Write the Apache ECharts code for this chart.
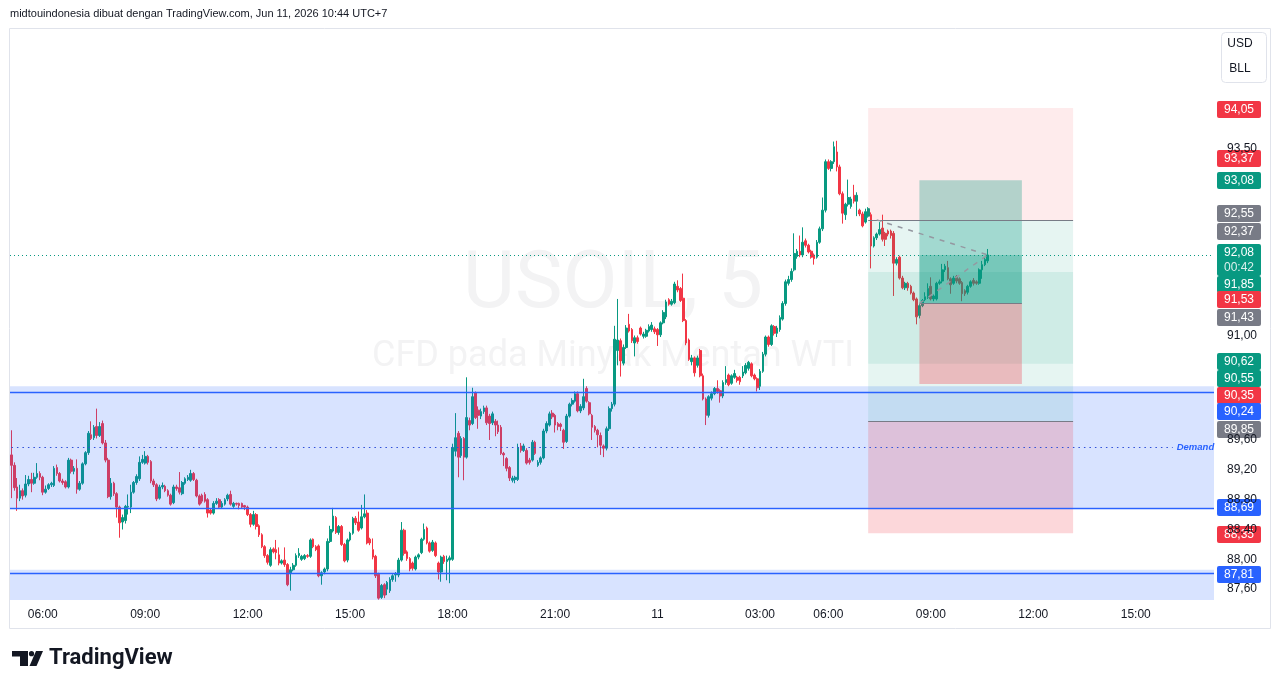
<!DOCTYPE html>
<html>
<head>
<meta charset="utf-8">
<title>USOIL, 5</title>
<script src="https://cdn.jsdelivr.net/npm/echarts@6/dist/echarts.min.js"></script>
<style>
  html, body { margin: 0; padding: 0; background: #fff; }
  #chart { width: 1281px; height: 688px; }
</style>
</head>
<body>
<div id="chart"></div>
<script>
// USOIL 5 menit, 10-11 Jun 2026 (UTC+7)
const firstBar = { day: 10, min: 5 * 60 + 5 };
const lastSlot = { day: 11, min: 17 * 60 + 15 };
const breakStart = 4 * 60, breakEnd = 5 * 60; // jeda harian tgl 11

// [open, close, low, high]
const candles = [
  [89.40,89.26,88.82,89.73],[89.26,88.96,88.92,89.30],[88.97,88.82,88.65,89.09],[88.82,88.92,88.78,89.00],
  [88.92,88.85,88.80,88.95],[88.86,89.01,88.83,89.13],[89.01,89.07,88.98,89.12],[89.07,89.02,88.90,89.16],
  [89.02,89.10,89.00,89.16],[89.10,89.15,89.08,89.29],[89.15,89.10,89.06,89.18],[89.10,88.90,88.86,89.12],
  [88.90,88.94,88.88,88.99],[88.95,89.00,88.93,89.02],[89.00,89.02,88.97,89.04],[88.99,89.22,88.97,89.25],
  [89.23,89.15,89.12,89.27],[89.15,89.05,89.03,89.17],[89.05,89.03,89.00,89.08],[89.04,88.97,88.95,89.06],
  [88.97,89.33,88.95,89.36],[89.33,89.18,89.15,89.35],[89.18,89.22,89.14,89.25],[89.22,88.94,88.88,89.34],
  [88.94,89.02,88.92,89.05],[89.02,89.28,89.00,89.30],[89.28,89.43,89.26,89.45],[89.43,89.69,89.40,89.72],
  [89.67,89.62,89.60,89.85],[89.63,89.77,89.60,89.80],[89.78,89.66,89.62,90.02],[89.66,89.78,89.64,89.84],
  [89.82,89.56,89.54,89.86],[89.56,89.33,89.30,89.60],[89.33,88.84,88.82,89.36],[88.84,89.02,88.80,89.09],
  [89.02,88.88,88.85,89.04],[88.88,88.70,88.56,88.90],[88.70,88.49,88.29,88.72],[88.50,88.56,88.40,88.60],
  [88.52,88.71,88.48,88.73],[88.70,88.71,88.60,88.87],[88.70,88.90,88.62,89.00],[88.90,89.03,88.88,89.05],
  [89.03,89.11,89.00,89.14],[89.08,89.30,89.05,89.38],[89.30,89.34,89.28,89.40],[89.29,89.38,89.27,89.45],
  [89.38,89.30,89.27,89.40],[89.31,89.05,89.02,89.33],[89.05,89.00,88.97,89.08],[89.00,88.81,88.78,89.02],
  [88.82,88.97,88.80,89.00],[88.97,88.99,88.94,89.03],[88.98,88.92,88.90,89.00],[88.92,88.86,88.84,88.94],
  [88.86,88.74,88.72,88.88],[88.76,88.97,88.74,89.00],[88.97,88.95,88.92,89.00],[88.96,88.90,88.87,89.17],
  [88.88,89.03,88.86,89.05],[89.02,89.08,89.00,89.10],[89.07,89.10,89.05,89.13],[89.06,89.15,89.04,89.20],
  [89.15,89.07,89.05,89.17],[89.06,88.85,88.83,89.08],[88.85,88.74,88.72,88.87],[88.86,88.78,88.75,88.88],
  [88.87,88.78,88.76,88.90],[88.80,88.62,88.56,88.82],[88.66,88.62,88.60,88.68],[88.62,88.75,88.60,88.78],
  [88.75,88.78,88.73,88.82],[88.80,88.70,88.68,88.82],[88.70,88.75,88.68,88.78],[88.74,88.80,88.72,88.82],
  [88.81,88.86,88.78,88.88],[88.87,88.74,88.72,88.92],[88.71,88.75,88.69,88.77],[88.75,88.74,88.72,88.76],
  [88.75,88.72,88.67,88.76],[88.75,88.70,88.68,88.76],[88.72,88.70,88.66,88.73],[88.70,88.60,88.58,88.72],
  [88.60,88.47,88.43,88.62],[88.47,88.60,88.45,88.65],[88.60,88.44,88.40,88.62],
  [88.45,88.33,88.30,88.47],[88.33,88.17,88.15,88.35],[88.17,88.05,88.02,88.19],[88.05,87.96,87.93,88.07],
  [87.92,88.13,87.90,88.16],[88.14,88.10,88.08,88.16],[88.13,88.09,88.00,88.26],[88.06,87.95,87.92,88.16],
  [87.95,87.98,87.93,88.00],[87.99,87.93,87.90,88.16],[87.93,87.66,87.64,87.95],[87.82,87.86,87.58,87.90],
  [87.86,87.92,87.84,87.95],[87.92,88.05,87.90,88.08],[88.05,88.08,88.02,88.15],[88.00,88.04,87.98,88.06],
  [88.01,88.05,87.99,88.07],[88.05,88.04,88.02,88.07],[88.04,88.26,88.02,88.28],[88.27,88.17,88.15,88.28],
  [88.17,88.13,88.11,88.19],[88.18,87.78,87.76,88.20],[87.78,87.82,87.66,87.84],[87.83,87.87,87.80,87.89],
  [87.87,88.24,87.84,88.28],[88.24,88.40,88.22,88.45],[88.38,88.58,88.36,88.69],[88.56,88.36,88.34,88.58],
  [88.36,88.44,88.33,88.46],[88.44,88.20,88.18,88.46],[88.20,87.98,87.96,88.22],[87.99,88.26,87.96,88.28],
  [88.26,88.35,88.24,88.37],[88.35,88.55,88.33,88.57],[88.55,88.49,88.46,88.58],[88.50,88.39,88.37,88.64],
  [88.42,88.57,88.40,88.73],[88.57,88.61,88.55,88.87],[88.62,88.22,88.20,88.66],[88.27,88.22,88.19,88.29],
  [88.13,88.03,88.00,88.28],[88.04,87.78,87.75,88.06],[87.80,87.48,87.46,87.82],[87.49,87.65,87.47,87.67],
  [87.66,87.52,87.48,87.68],[87.60,87.69,87.52,87.71],[87.58,87.73,87.55,87.76],[87.73,87.78,87.70,87.80],
  [87.79,87.80,87.70,87.83],[87.79,87.99,87.76,88.02],[87.99,88.39,87.97,88.50],[88.39,88.08,88.05,88.41],
  [88.10,88.01,87.98,88.12],[88.01,87.87,87.84,88.03],[87.95,87.88,87.85,87.97],[87.87,88.03,87.85,88.05],
  [88.03,88.06,88.00,88.08],[88.09,88.27,88.07,88.29],[88.27,88.40,88.25,88.48],[88.42,88.22,88.20,88.44],
  [88.22,88.11,88.09,88.24],[88.12,88.23,88.10,88.26],[88.22,88.05,88.03,88.24],[87.95,87.83,87.73,87.97],
  [87.83,88.03,87.70,88.05],[88.04,87.97,87.94,88.06],[87.97,88.00,87.72,88.05],[87.99,88.02,87.68,88.05],
  [88.00,89.50,87.98,89.55],[89.45,89.63,89.38,89.96],[89.69,89.37,89.10,89.72],[89.39,89.62,89.36,89.65],
  [89.62,89.37,89.06,89.64],[89.37,89.90,89.35,90.44],[89.86,89.80,89.73,89.90],[89.82,90.18,89.80,90.30],
  [90.23,89.90,89.88,90.25],[90.00,89.93,89.75,90.05],[89.92,89.98,89.88,90.02],[89.98,90.03,89.95,90.06],
  [90.03,89.83,89.80,90.06],[89.92,89.82,89.60,89.95],[89.83,89.95,89.80,89.98],[89.85,89.80,89.65,89.88],
  [89.80,89.71,89.68,89.86],[89.77,89.42,89.40,89.80],[89.42,89.40,89.25,89.44],[89.35,89.22,89.18,89.37],
  [89.23,89.09,89.05,89.25],[89.06,89.09,89.03,89.12],[89.07,89.10,89.02,89.12],[89.07,89.50,89.05,89.55],
  [89.52,89.46,89.43,89.56],[89.46,89.52,89.44,89.55],[89.46,89.29,89.27,89.49],[89.33,89.30,89.27,89.36],
  [89.33,89.57,89.31,89.60],[89.57,89.42,89.40,89.59],[89.26,89.30,89.24,89.33],[89.30,89.36,89.27,89.38],
  [89.36,89.72,89.34,89.75],[89.72,89.82,89.69,89.85],[89.80,89.95,89.78,89.98],[89.96,89.91,89.88,90.00],
  [89.93,89.80,89.70,89.95],[89.82,89.78,89.73,89.84],[89.81,89.78,89.72,89.83],[89.73,89.57,89.48,89.75],
  [89.58,89.92,89.56,89.95],[89.92,90.08,89.90,90.10],[90.08,90.13,90.05,90.16],[90.12,90.22,90.10,90.25],
  [90.22,89.99,89.97,90.25],[89.99,90.05,89.96,90.08],[90.03,90.18,90.00,90.42],[90.29,90.12,90.10,90.32],
  [90.10,89.95,89.93,90.12],[89.93,89.77,89.60,89.95],[89.78,89.73,89.70,89.80],[89.73,89.67,89.50,89.75],
  [89.66,89.53,89.40,89.70],[89.52,89.49,89.37,89.54],[89.49,89.75,89.46,89.78],[89.75,90.02,89.72,90.05],
  [90.02,90.08,89.98,90.11],[90.08,90.95,90.05,91.13],[90.80,90.94,90.60,91.49],[90.93,90.66,90.45,90.96],
  [90.63,90.84,90.60,90.88],[90.84,91.10,90.82,91.14],[91.15,91.06,91.04,91.29],[91.08,90.93,90.90,91.10],
  [90.90,90.97,90.72,91.00],[90.97,90.92,90.89,91.00],[91.10,91.02,91.00,91.12],[90.99,91.02,90.96,91.05],
  [90.99,91.07,90.97,91.09],[91.06,91.12,91.04,91.15],[91.08,91.14,91.05,91.18],[91.09,91.05,91.02,91.12],
  [91.08,91.01,90.86,91.10],[91.01,91.17,90.98,91.19],[91.17,91.31,91.15,91.34],[91.25,91.45,91.22,91.48],
  [91.48,91.42,91.40,91.50],[91.42,91.46,91.40,91.49],[91.44,91.69,91.42,91.72],[91.66,91.61,91.58,91.74],
  [91.63,91.47,91.45,91.65],[91.50,91.20,91.18,91.83],[91.20,90.90,90.87,91.22],[90.94,90.68,90.66,90.96],
  [90.65,90.70,90.60,90.74],[90.70,90.50,90.45,90.72],[90.60,90.70,90.57,90.73],[90.80,90.46,90.44,90.82],
  [90.46,90.15,90.13,90.49],[90.15,89.93,89.80,90.17],[89.93,90.18,89.90,90.20],[90.16,90.22,90.13,90.25],
  [90.22,90.29,90.20,90.31],[90.29,90.25,90.22,90.40],[90.26,90.19,90.10,90.28],[90.19,90.37,90.16,90.40],
  [90.37,90.41,90.34,90.59],[90.47,90.34,90.32,90.49],[90.36,90.46,90.34,90.48],[90.44,90.49,90.42,90.54],
  [90.44,90.40,90.37,90.46],[90.44,90.38,90.34,90.46],[90.46,90.51,90.43,90.59],[90.50,90.60,90.48,90.63],
  [90.56,90.64,90.53,90.66],[90.62,90.46,90.44,90.64],[90.47,90.42,90.40,90.49],[90.42,90.30,90.25,90.44],
  [90.32,90.52,90.27,90.55],[90.52,90.75,90.50,90.78],[90.75,90.98,90.72,91.00],[90.98,90.88,90.85,91.00],
  [90.88,91.13,90.86,91.15],
  [91.12,91.03,91.00,91.14],[91.03,91.10,90.98,91.13],[91.08,91.24,91.05,91.27],[91.22,91.43,91.20,91.46],
  [91.43,91.72,91.40,91.75],[91.70,91.75,91.67,91.80],[91.75,91.86,91.72,91.90],
  [91.88,92.10,91.86,92.37],[92.06,92.13,92.03,92.16],[92.13,92.08,92.05,92.34],[92.08,92.25,92.05,92.45],
  [92.27,92.21,92.18,92.30],[92.21,92.12,92.10,92.23],[92.13,92.05,92.03,92.15],[92.08,92.03,91.95,92.10],
  [92.05,92.25,92.03,92.28],[92.25,92.43,92.23,92.46],[92.43,92.68,92.40,92.85],[92.68,93.33,92.65,93.36],
  [93.33,93.24,93.22,93.36],[93.24,93.33,93.20,93.35],[93.33,93.53,93.30,93.60],[93.46,93.26,93.20,93.61],
  [93.26,92.90,92.88,93.29],[92.90,92.64,92.50,92.93],[92.62,92.76,92.55,92.78],[92.76,92.85,92.73,93.09],
  [92.73,92.83,92.70,92.86],[92.88,92.80,92.77,93.02],[92.80,92.88,92.60,92.92],[92.68,92.63,92.60,92.70],
  [92.63,92.47,92.45,92.66],[92.52,92.66,92.50,92.70],[92.60,92.70,92.58,92.72],[92.62,92.20,91.90,92.65],
  [92.20,92.31,92.18,92.33],[92.31,92.36,92.28,92.38],[92.36,92.42,92.34,92.52],[92.44,92.29,92.26,92.62],
  [92.37,92.29,92.20,92.39],[92.40,92.36,92.33,92.42],[92.40,92.34,92.30,92.42],[92.37,91.97,91.53,92.40],
  [91.97,92.02,91.94,92.05],[92.05,91.77,91.75,92.07],[91.77,91.64,91.62,91.80],[91.64,91.70,91.61,91.72],
  [91.70,91.64,91.60,91.72],[91.66,91.57,91.55,91.68],[91.57,91.48,91.46,91.59],[91.49,91.25,91.15,91.51],
  [91.27,91.40,91.23,91.42],[91.40,91.47,91.38,91.49],[91.48,91.52,91.46,91.58],[91.51,91.63,91.49,91.70],
  [91.66,91.49,91.47,91.78],[91.49,91.53,91.46,91.55],[91.49,91.70,91.47,91.72],[91.70,91.72,91.68,91.75],
  [91.73,91.88,91.70,91.96],[91.88,91.93,91.85,91.96],[91.91,91.76,91.74,92.00],[91.76,91.68,91.56,91.78],
  [91.70,91.77,91.68,91.80],[91.79,91.73,91.70,91.81],[91.76,91.70,91.68,91.78],[91.71,91.56,91.46,91.73],
  [91.60,91.56,91.53,91.62],[91.58,91.66,91.55,91.68],[91.66,91.72,91.64,91.74],[91.74,91.70,91.67,91.77],
  [91.72,91.70,91.68,91.74],[91.70,91.88,91.68,91.90],[91.88,91.95,91.76,92.00],[91.95,92.02,91.93,92.05],
  [92.00,92.08,91.97,92.16]
];

const priceTicks = [87.6, 88.0, 88.4, 88.8, 89.2, 89.6, 91.0, 93.5];
const yMin = 87.455, yMax = 95.122;
const lastPrice = 92.08;
const countdown = '00:42';

// label harga di skala kanan
const tagPrices = [94.05, 93.37, 93.08, 92.55, 92.37, 92.08, 91.85, 91.53, 91.43, 90.62, 90.55, 90.35, 90.24, 89.85, 88.69, 88.35, 87.81];
const tagKinds  = ['stop', 'stop', 'target', 'entry', 'entry', 'last', 'target', 'stop', 'entry', 'target', 'target', 'stop', 'line', 'entry', 'line', 'stop', 'line'];
const tagNudge  = [2, 0, 0, -6, -2, 5, 12, 4, 14, -2, 9, 11, 19, 8, 0, 1, 1]; // geser supaya tidak tumpuk

// gambar: zona demand, garis horizontal, posisi
const demandTop = 90.32, demandBottom = 88.69;
const lowerZoneTop = 87.86;
const hLines = [90.24, 88.69, 87.81];
const shortPos = { from: '11 07:10', to: '11 13:10', stop: 94.05, entry: 92.55, target: 89.85, lineFrom: '11 07:25' };
const extraPos = { entry: 89.85, stop: 88.35, bandTop: 91.85, bandBottom: 90.62 };
const longPos  = { from: '11 08:40', to: '11 11:40', target: 93.08, entry: 91.43, stop: 90.35 };
const lastBar = '11 10:40';
const demandLabelEnd = '11 16:05';

const pad = n => (n < 10 ? '0' : '') + n;
const categories = [];
for (let d = firstBar.day, m = firstBar.min; d < lastSlot.day || m <= lastSlot.min;) {
  if (!(d === 11 && m >= breakStart && m < breakEnd)) {
    categories.push(d + ' ' + pad(Math.floor(m / 60)) + ':' + pad(m % 60));
  }
  m += 5;
  if (m >= 1440) { m -= 1440; d++; }
}

const fmt = v => v.toFixed(2).replace('.', ',');
const FONT = '"Liberation Sans", Arial, sans-serif';
const GREEN = '#089981', RED = '#f23645', GREY = '#787b86', BLUE = '#2962ff';

const chart = echarts.init(document.getElementById('chart'));

const box = (x1, x2, top, bottom, color) => [
  { xAxis: x1, yAxis: top, itemStyle: { color: color } },
  { xAxis: x2, yAxis: bottom }
];
const seg = (x1, y1, x2, y2, style) => [
  { xAxis: x1, yAxis: y1, lineStyle: style },
  { xAxis: x2, yAxis: y2 }
];

chart.setOption({
  animation: false,
  textStyle: { fontFamily: FONT },
  grid: { left: 10, right: 67, top: 28, bottom: 88 },
  xAxis: {
    type: 'category',
    data: categories,
    boundaryGap: true,
    axisLine: { show: false },
    axisTick: { show: false },
    splitLine: { show: false },
    axisLabel: {
      color: '#131722',
      fontSize: 12,
      margin: 9,
      interval: (i, v) => {
        const hm = v.split(' ')[1];
        return hm.endsWith(':00') && (+hm.slice(0, 2)) % 3 === 0;
      },
      formatter: v => {
        const [d, hm] = v.split(' ');
        return hm === '00:00' ? d : hm;
      }
    }
  },
  yAxis: {
    type: 'value',
    position: 'right',
    min: yMin,
    max: yMax,
    axisLine: { show: false },
    axisTick: { show: false },
    splitLine: { show: false },
    axisLabel: {
      color: '#131722',
      fontSize: 12,
      margin: 13,
      customValues: priceTicks,
      formatter: v => fmt(v)
    }
  },
  series: [{
    type: 'candlestick',
    data: candles,
    barWidth: 2.2,
    silent: true,
    itemStyle: {
      color: GREEN, color0: RED,
      borderColor: GREEN, borderColor0: RED,
      borderWidth: 1
    },
    markArea: {
      z: 3,
      silent: true,
      data: [
        [{ yAxis: demandTop, itemStyle: { color: 'rgba(41,98,255,0.18)' } }, { yAxis: demandBottom }],
        [{ yAxis: lowerZoneTop, itemStyle: { color: 'rgba(41,98,255,0.18)' } }, { yAxis: yMin }],
        box(shortPos.from, shortPos.to, shortPos.stop, shortPos.entry, 'rgba(242,54,69,0.1)'),
        box(shortPos.from, shortPos.to, shortPos.entry, shortPos.target, 'rgba(8,153,129,0.1)'),
        box(shortPos.from, shortPos.to, extraPos.bandTop, extraPos.bandBottom, 'rgba(8,153,129,0.1)'),
        box(shortPos.from, shortPos.to, extraPos.entry, extraPos.stop, 'rgba(242,54,69,0.2)'),
        box(longPos.from, longPos.to, longPos.target, longPos.entry, 'rgba(8,153,129,0.3)'),
        box(longPos.from, longPos.to, longPos.entry, longPos.stop, 'rgba(242,54,69,0.3)'),
        box(longPos.from, longPos.to, lastPrice, longPos.entry, 'rgba(8,153,129,0.28)')
      ]
    },
    markLine: {
      silent: true,
      symbol: ['none', 'none'],
      label: { show: false },
      data: [
        ...hLines.map(v => ({ yAxis: v, lineStyle: { color: BLUE, width: 1.3, type: 'solid' } })),
        { yAxis: lastPrice, lineStyle: { color: GREEN, width: 1, type: [1, 3] } },
        [
          {
            xAxis: categories[0], yAxis: (demandTop + demandBottom) / 2,
            lineStyle: { color: '#2f4fd8', width: 1.2, type: [1.5, 4] },
            label: {
              show: true, position: 'end', distance: 4, formatter: 'Demand',
              color: BLUE, fontSize: 9.5, fontStyle: 'italic', fontWeight: 'bold'
            }
          },
          { xAxis: demandLabelEnd, yAxis: (demandTop + demandBottom) / 2 }
        ],
        seg(shortPos.from, shortPos.entry, shortPos.to, shortPos.entry, { color: GREY, width: 1, type: 'solid' }),
        seg(shortPos.from, extraPos.entry, shortPos.to, extraPos.entry, { color: GREY, width: 1, type: 'solid' }),
        seg(longPos.from, longPos.entry, longPos.to, longPos.entry, { color: GREY, width: 1, type: 'solid' }),
        seg(shortPos.lineFrom, shortPos.entry, lastBar, lastPrice, { color: '#9598a1', width: 1.5, type: [5, 6] }),
        seg(longPos.from, longPos.entry, lastBar, lastPrice, { color: '#9598a1', width: 1.5, type: [5, 6] })
      ]
    }
  }]
});

// elemen statis + label harga
const tagColor = { stop: RED, target: GREEN, entry: GREY, line: BLUE, last: GREEN };
const tags = tagPrices.map((p, k) => {
  const last = tagKinds[k] === 'last';
  const h = last ? 32 : 17;
  const y = chart.convertToPixel({ yAxisIndex: 0 }, p) + tagNudge[k];
  const children = [
    { type: 'rect', shape: { x: 0, y: 0, width: 44, height: h, r: 2 }, style: { fill: tagColor[tagKinds[k]] } },
    { type: 'text', x: 22, y: last ? 8.5 : h / 2, style: { text: fmt(p), fill: '#fff', font: '12px ' + FONT, align: 'center', verticalAlign: 'middle' } }
  ];
  if (last) {
    children.push({ type: 'text', x: 22, y: 23.5, style: { text: countdown, fill: 'rgba(255,255,255,0.85)', font: '12px ' + FONT, align: 'center', verticalAlign: 'middle' } });
  }
  return { type: 'group', x: 1217, y: Math.round(y - h / 2), z: 50, children: children };
});

const statics = [
  { type: 'text', z: 0, x: 613, y: 287, style: { text: 'USOIL, 5', font: '80px Roboto', fill: '#f3f3f4', align: 'center', verticalAlign: 'middle' } },
  { type: 'text', z: 0, x: 613, y: 357, style: { text: 'CFD pada Minyak Mentah WTI', font: '36px Roboto', fill: '#f3f3f4', align: 'center', verticalAlign: 'middle' } },
  { type: 'text', z: 50, x: 10, y: 14, style: { text: 'midtouindonesia dibuat dengan TradingView.com, Jun 11, 2026 10:44 UTC+7', font: '11px ' + FONT, fill: '#131722', verticalAlign: 'middle' } },
  { type: 'rect', z: 49, shape: { x: 9.5, y: 28.5, width: 1261, height: 600 }, style: { fill: 'none', stroke: '#e0e3eb', lineWidth: 1 } },
  { type: 'rect', z: 50, shape: { x: 1221.5, y: 32.5, width: 45, height: 50, r: 4 }, style: { fill: '#fff', stroke: '#e0e3eb', lineWidth: 1 } },
  { type: 'text', z: 51, x: 1240, y: 44, style: { text: 'USD', font: '12px ' + FONT, fill: '#131722', align: 'center', verticalAlign: 'middle' } },
  { type: 'text', z: 51, x: 1240, y: 69, style: { text: 'BLL', font: '12px ' + FONT, fill: '#131722', align: 'center', verticalAlign: 'middle' } },
  // logo TradingView
  { type: 'polygon', z: 50, shape: { points: [[12, 651], [28, 651], [28, 666], [20, 666], [20, 656.5], [12, 656.5]] }, style: { fill: '#131722' } },
  { type: 'circle', z: 50, shape: { cx: 31.5, cy: 653.7, r: 2.6 }, style: { fill: '#131722' } },
  { type: 'polygon', z: 50, shape: { points: [[36, 651], [43, 651], [36.5, 666], [29.5, 666]] }, style: { fill: '#131722' } },
  { type: 'text', z: 50, x: 49, y: 658.5, style: { text: 'TradingView', font: 'bold 22px Roboto', fill: '#131722', verticalAlign: 'middle' } }
];

chart.setOption({ graphic: statics.concat(tags) });
</script>
</body>
</html>
